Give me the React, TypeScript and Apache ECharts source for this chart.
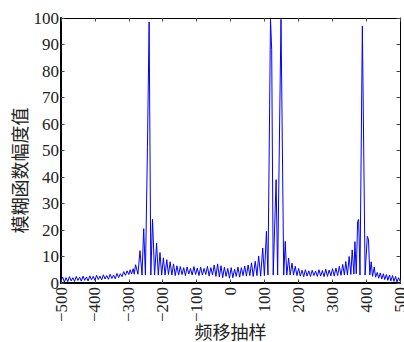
import React, { useEffect, useRef } from "react";
import * as echarts from "echarts";

// Frequency-shift sample positions (x) and ambiguity-function magnitude (y)
const shiftX = [
  -500, -495, -490, -485, -480, -475, -470, -465, -460, -455,
  -450, -445, -440, -435, -430, -425, -420, -415, -410, -405,
  -400, -395, -390, -385, -380, -375, -370, -365, -360, -355,
  -350, -345, -340, -335, -330, -325, -320, -315, -310, -305,
  -300, -296, -292, -287, -284, -280, -273, -267, -261, -256,
  -251, -245, -240, -235, -230, -224, -218, -213, -208, -203,
  -198, -193, -188, -183, -178, -173, -168, -163, -158, -153,
  -148, -143, -138, -133, -128, -123, -118, -113, -108, -103,
  -98, -93, -88, -83, -78, -73, -68, -63, -58, -53,
  -48, -43, -38, -33, -28, -23, -18, -13, -8, -3,
  2, 7, 12, 17, 22, 27, 32, 37, 42, 47,
  52, 57, 62, 67, 73, 78, 83, 89, 95, 100,
  106, 110.5, 118, 121.5, 126, 134.5, 139, 149, 157, 161.5,
  166, 171.5, 176, 181.5, 186, 191, 196, 201, 206, 211,
  216, 221, 226, 231, 236, 241, 246, 251, 256, 261,
  266, 271, 276, 281, 286, 291, 296, 301, 306, 311,
  316, 321, 326, 331, 336, 340, 345, 350, 355, 359,
  364, 367, 371, 375, 378, 382, 389, 397, 403.5, 407,
  411, 415, 419, 424, 428, 433, 437, 442, 446, 451,
  455, 460, 464, 469, 473, 478, 482, 487, 491, 496,
  500,
];

const magnitude = [
  1.0, 2.2, 0.4, 2.0, 0.5, 2.4, 0.8, 2.0, 0.6, 2.5,
  1.0, 2.2, 0.7, 2.6, 1.0, 2.3, 0.8, 2.7, 1.2, 2.5,
  1.0, 2.9, 1.3, 2.6, 1.2, 3.1, 1.5, 2.8, 1.4, 3.3,
  1.7, 3.0, 1.6, 3.6, 2.0, 3.5, 2.4, 4.3, 2.9, 4.6,
  3.2, 5.0, 3.4, 5.4, 3.3, 6.9, 3.3, 12.2, 3.0, 20.5,
  3.0, 51, 98.5, 3.0, 24, 3.0, 15, 3.0, 11.5, 3.0,
  9.5, 3.0, 8.8, 3.2, 8.0, 3.0, 7.2, 2.8, 6.5, 3.0,
  6.2, 3.2, 5.8, 2.8, 6.0, 3.4, 5.5, 3.0, 6.2, 3.2,
  5.6, 2.8, 6.0, 3.0, 5.5, 3.2, 6.3, 2.6, 5.8, 3.0,
  6.8, 2.5, 7.2, 2.3, 6.5, 2.0, 6.0, 2.5, 5.5, 1.8,
  5.8, 2.0, 5.2, 2.5, 6.0, 2.2, 5.8, 2.8, 6.4, 2.6,
  6.8, 2.8, 7.6, 2.5, 8.2, 2.8, 10.2, 2.6, 13.2, 2.8,
  19.5, 3.0, 99.5, 88, 3.0, 39, 3.0, 99.5, 3.0, 15.7,
  3.0, 9.4, 3.0, 7.5, 3.0, 6.3, 2.8, 5.5, 2.6, 4.8,
  2.4, 5.0, 2.6, 4.6, 2.5, 4.8, 2.8, 4.5, 2.5, 5.0,
  2.6, 4.7, 2.4, 5.2, 2.5, 4.9, 2.7, 5.4, 2.6, 5.6,
  2.8, 6.3, 2.9, 7.0, 3.0, 8.1, 3.0, 10, 3.2, 12.5,
  3.4, 15.6, 3.5, 23.2, 24, 3.0, 97, 3.0, 17.6, 16.5,
  3.0, 8.0, 2.5, 6.0, 2.2, 4.0, 1.8, 3.8, 1.5, 3.5,
  1.3, 3.2, 1.0, 3.0, 0.8, 2.8, 0.6, 2.5, 0.4, 2.0,
  0.6,
];

const xName = "频移抽样";
const yName = "模糊函数幅度值";

const serif = "'Liberation Serif', 'Times New Roman', serif";
const cjk = "'Noto Sans CJK SC', sans-serif";

export default function App() {
  const ref = useRef<HTMLDivElement>(null);

  useEffect(() => {
    if (!ref.current) return;
    const chart = echarts.init(ref.current, null, { renderer: "svg" });
    const data = shiftX.map((x, i) => [x, magnitude[i]]);
    const tickStyle = { show: true, inside: true, length: 3.5, lineStyle: { color: "#444", width: 1 } };
    chart.setOption({
      animation: false,
      backgroundColor: "#ffffff",
      grid: { left: 61, right: 4, top: 18, bottom: 59, containLabel: false, outerBoundsMode: "none" },
      xAxis: [
        {
          type: "value",
          min: -500,
          max: 500,
          interval: 100,
          position: "bottom",
          name: xName,
          nameLocation: "middle",
          nameGap: 38,
          nameMoveOverlap: false,
          nameTextStyle: { fontFamily: cjk, fontSize: 18, color: "#222", lineHeight: 19 },
          axisLine: { show: true, onZero: false, lineStyle: { color: "#000", width: 2 } },
          axisTick: tickStyle,
          splitLine: { show: false },
          axisLabel: {
            rotate: 90,
            margin: 4,
            fontFamily: serif,
            fontSize: 17,
            color: "#222",
            showMinLabel: true,
            showMaxLabel: true,
            formatter: (v: number) => String(v).replace("-", "\u2212"),
          },
        },
        {
          type: "value",
          min: -500,
          max: 500,
          interval: 100,
          position: "top",
          axisLine: { show: true, onZero: false, lineStyle: { color: "#000", width: 1 } },
          axisTick: tickStyle,
          axisLabel: { show: false },
          splitLine: { show: false },
        },
      ],
      yAxis: [
        {
          type: "value",
          min: 0,
          max: 100,
          interval: 10,
          position: "left",
          name: yName,
          nameLocation: "middle",
          nameGap: 33,
          nameRotate: 90,
          nameMoveOverlap: false,
          nameTextStyle: { fontFamily: cjk, fontSize: 18, color: "#222", padding: [0, 40, 0, 0] },
          axisLine: { show: true, onZero: false, lineStyle: { color: "#000", width: 2 } },
          axisTick: tickStyle,
          splitLine: { show: false },
          axisLabel: {
            margin: 2,
            fontFamily: serif,
            fontSize: 17,
            color: "#222",
            showMinLabel: true,
            showMaxLabel: true,
          },
        },
        {
          type: "value",
          min: 0,
          max: 100,
          interval: 10,
          position: "right",
          axisLine: { show: true, onZero: false, lineStyle: { color: "#000", width: 1 } },
          axisTick: tickStyle,
          axisLabel: { show: false },
          splitLine: { show: false },
        },
      ],
      series: [
        {
          type: "line",
          data,
          xAxisIndex: 0,
          yAxisIndex: 0,
          showSymbol: false,
          symbol: "none",
          lineStyle: { color: "#0000ff", width: 1 },
          clip: true,
        },
      ],
    });
    return () => chart.dispose();
  }, []);

  return (
    <div
      ref={ref}
      style={{ position: "fixed", left: 0, top: 0, width: 404, height: 342, background: "#fff" }}
    />
  );
}
